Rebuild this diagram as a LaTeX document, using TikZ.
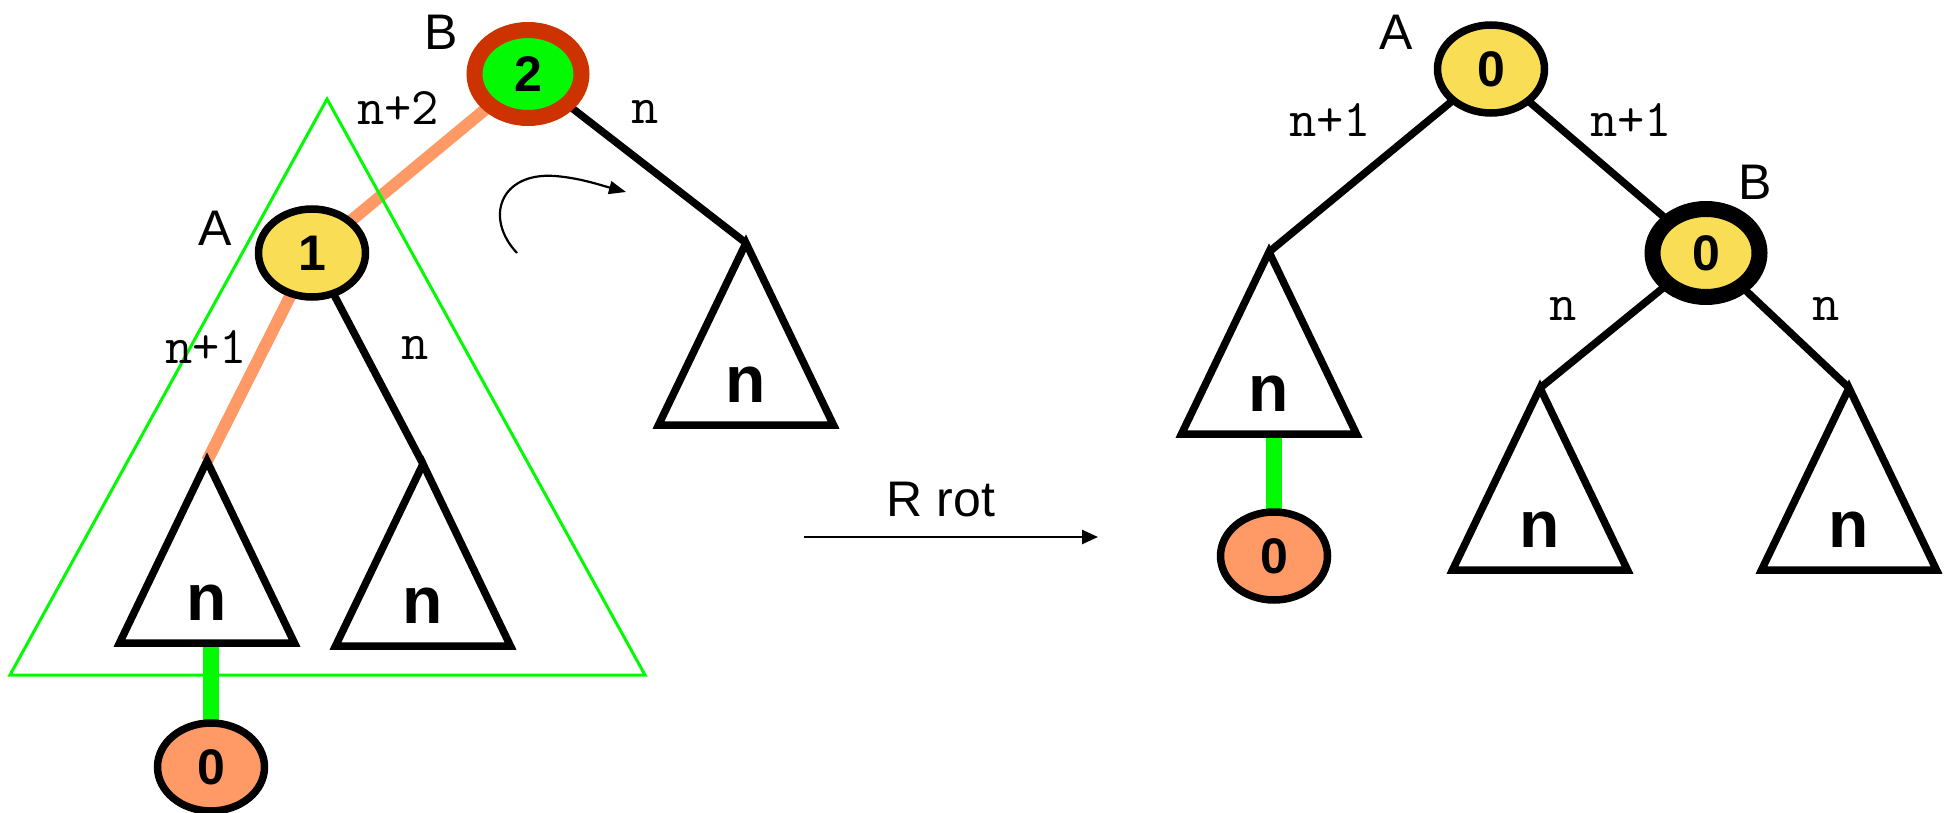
\documentclass[tikz,border=0pt]{standalone}
\usepackage{fontspec}
\setmainfont{Liberation Sans}
\usepackage{xcolor}
\usepackage{tikz}
\usetikzlibrary{arrows.meta,calc,shapes.geometric,backgrounds}
\definecolor{tyellow}{RGB}{249,222,85}
\definecolor{tpeach}{RGB}{255,153,102}
\definecolor{trust}{RGB}{204,51,0}
\definecolor{tgreen}{RGB}{4,250,4}

\begin{document}
\begin{tikzpicture}[x=1pt,y=-1pt,
  nd/.style={ellipse,draw,line width=7.5pt,minimum width=107pt,minimum height=88pt,inner sep=0pt,font=\fontsize{50}{50}\selectfont\bfseries},
  lbl/.style={font=\fontsize{50}{50}\selectfont},
  ht/.style={font=\fontsize{53}{53}\selectfont\ttfamily},
  big/.style={font=\fontsize{66}{66}\selectfont\bfseries},
  tri/.style={draw,line width=7.5pt},
  ln/.style={line width=7.5pt},
  hot/.style={line width=12pt,draw=tpeach},
  link/.style={line width=16pt,draw=tgreen},
  ar/.style={line width=2.5pt,-{Triangle[length=16pt,width=14pt]}}]
 \useasboundingbox (0,0) rectangle (1948,813);
 % before the rotation
 \draw[tgreen,line width=3pt] (327,99) -- (10,675) -- (645,675) -- cycle;
 \node[nd,fill=tgreen,draw=trust,line width=16pt] (b) at (528,74) {2};
 \node[nd,fill=tyellow] (a) at (312,253) {1};
 \node[nd,fill=tpeach] (z) at (211,767) {0};
 \coordinate (tl) at (207,461);
 \coordinate (tm) at (423,464);
 \coordinate (tr) at (746,243);
 \draw[tri] (tl) -- ++(-87.5,182) -- ++(175,0) -- cycle;
 \draw[tri] (tm) -- ++(-87.5,182) -- ++(175,0) -- cycle;
 \draw[tri] (tr) -- ++(-87.5,182) -- ++(175,0) -- cycle;
 \node[big] (tln) at ($(tl)+(0,142)$) {n};
 \node[big] (tmn) at ($(tm)+(0,142)$) {n};
 \node[big] (trn) at ($(tr)+(0,142)$) {n};
 \coordinate (tlb) at ($(tl)+(0,182)$);
 \node[lbl] (bl) at (441,32) {B};
 \node[lbl] (al) at (215,228) {A};
 \node[ht] (h1) at (398,108) {n+2};
 \node[ht] (h2) at (645,112) {n};
 \node[ht] (h3) at (206,347) {n+1};
 \node[ht] (h4) at (415,348) {n};
 \begin{scope}[on background layer]
  \draw[hot] (b.center) -- (a.center);
  \draw[hot] (a.center) -- (tl);
  \draw[ln] (a.center) -- (tm);
  \draw[ln] (b.center) -- (tr);
  \draw[link] (z.center) -- (z.center |- tlb);
 \end{scope}
 \coordinate (rs) at (517,253);
 \coordinate (re) at (626,192);
 \draw[line width=2.2pt,-{Triangle[length=17pt,width=13pt]}] (rs) .. controls (484,218) and (500,172) .. (555,176) .. controls (580,178) and (600,185) .. (re);

 % the arrow
 \node[lbl] (rot) at (941,500) {R rot};
 \coordinate (ps) at (804,537);
 \coordinate (pe) at (1098,537);
 \draw[ar] (ps) -- (pe);

 % after the rotation
 \node[nd,fill=tyellow] (a2) at (1491,69) {0};
 \node[nd,fill=tyellow,line width=16pt] (b2) at (1706,253) {0};
 \node[nd,fill=tpeach] (z2) at (1274,556) {0};
 \coordinate (u1) at (1269,252);
 \coordinate (u2) at (1540,388);
 \coordinate (u3) at (1849,388);
 \draw[tri] (u1) -- ++(-87.5,182) -- ++(175,0) -- cycle;
 \draw[tri] (u2) -- ++(-87.5,182) -- ++(175,0) -- cycle;
 \draw[tri] (u3) -- ++(-87.5,182) -- ++(175,0) -- cycle;
 \node[big] (u1n) at ($(u1)+(0,142)$) {n};
 \node[big] (u2n) at ($(u2)+(0,142)$) {n};
 \node[big] (u3n) at ($(u3)+(0,142)$) {n};
 \coordinate (u1b) at ($(u1)+(0,182)$);
 \node[lbl] (al2) at (1396,32) {A};
 \node[lbl] (bl2) at (1755,182) {B};
 \node[ht] (k1) at (1330,120) {n+1};
 \node[ht] (k2) at (1631,120) {n+1};
 \node[ht] (k3) at (1563,309) {n};
 \node[ht] (k4) at (1826,309) {n};
 \begin{scope}[on background layer]
  \draw[ln] (a2.center) -- (b2.center);
  \draw[ln] (a2.center) -- (u1);
  \draw[ln] (b2.center) -- (u2);
  \draw[ln] (b2.center) -- (u3);
  \draw[link] (z2.center) -- (z2.center |- u1b);
 \end{scope}
\end{tikzpicture}
\end{document}
